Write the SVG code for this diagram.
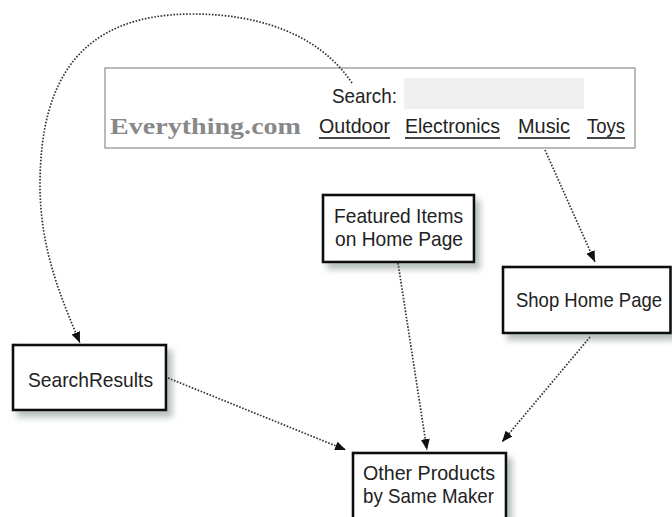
<svg xmlns="http://www.w3.org/2000/svg" width="672" height="517" viewBox="0 0 672 517">
<style>
.box{fill:#fff;stroke:#111;stroke-width:2.6}
.lbl{font-family:"Liberation Sans Narrow","Liberation Sans",Arial,sans-serif;font-size:21px;fill:#222}
.link{font-family:"Liberation Sans Narrow","Liberation Sans",Arial,sans-serif;font-size:21px;fill:#222}
.ul{stroke:#444;stroke-width:2}
.conn{fill:none;stroke:#333;stroke-width:1.7;stroke-dasharray:1.6 1.6}
</style>
<defs>
<marker id="arr" markerUnits="userSpaceOnUse" markerWidth="12" markerHeight="10" refX="11" refY="4.5" orient="auto">
<path d="M0,0 L11,4.5 L0,9 z" fill="#111"/>
</marker>
<filter id="sh" x="-20%" y="-20%" width="150%" height="160%">
<feDropShadow dx="5" dy="6" stdDeviation="3" flood-color="#7a8a88" flood-opacity="0.55"/>
</filter>
</defs>
<g id="website">
<rect x="105" y="68" width="530" height="80" fill="#fff" stroke="#aaa" stroke-width="1.6"/>
<text class="lbl" x="332" y="103" textLength="65" lengthAdjust="spacingAndGlyphs">Search:</text>
<rect x="404" y="78" width="180" height="31" fill="#f0f0f0"/>
<text x="110" y="134" font-family="'Liberation Serif','Times New Roman',serif" font-weight="bold" font-size="24" fill="#888" textLength="191" lengthAdjust="spacingAndGlyphs">Everything.com</text>
<text class="link" x="319" y="133" textLength="71" lengthAdjust="spacingAndGlyphs">Outdoor</text>
<line class="ul" x1="319" y1="138" x2="390" y2="138"/>
<text class="link" x="405" y="133" textLength="95" lengthAdjust="spacingAndGlyphs">Electronics</text>
<line class="ul" x1="405" y1="138" x2="500" y2="138"/>
<text class="link" x="518" y="133" textLength="52" lengthAdjust="spacingAndGlyphs">Music</text>
<line class="ul" x1="518" y1="138" x2="570" y2="138"/>
<text class="link" x="587" y="133" textLength="38" lengthAdjust="spacingAndGlyphs">Toys</text>
<line class="ul" x1="587" y1="138" x2="625" y2="138"/>
</g>
<g id="featured">
<rect class="box" x="323" y="195" width="151" height="67" filter="url(#sh)"/>
<text class="lbl" x="334" y="223" textLength="129" lengthAdjust="spacingAndGlyphs">Featured Items</text>
<text class="lbl" x="335" y="246" textLength="128" lengthAdjust="spacingAndGlyphs">on Home Page</text>
</g>
<g id="shop">
<rect class="box" x="503" y="267" width="167.5" height="66" filter="url(#sh)"/>
<text class="lbl" x="516" y="307" textLength="146" lengthAdjust="spacingAndGlyphs">Shop Home Page</text>
</g>
<g id="searchresults">
<rect class="box" x="13" y="345" width="153" height="65" filter="url(#sh)"/>
<text class="lbl" x="28" y="387" textLength="125" lengthAdjust="spacingAndGlyphs">SearchResults</text>
</g>
<g id="other">
<rect class="box" x="353" y="453" width="153" height="80" filter="url(#sh)"/>
<text class="lbl" x="363" y="480" textLength="132" lengthAdjust="spacingAndGlyphs">Other Products</text>
<text class="lbl" x="363" y="503" textLength="131" lengthAdjust="spacingAndGlyphs">by Same Maker</text>
</g>
<g id="connectors">
<path class="conn" d="M352,83 C320,35 260,14 193,14 C80,14 40,80 40,185 C40,250 62,300 80,343" marker-end="url(#arr)"/>
<path class="conn" d="M545,150 L595,262" marker-end="url(#arr)"/>
<path class="conn" d="M398,263 L427,450" marker-end="url(#arr)"/>
<path class="conn" d="M590,337 L502,442" marker-end="url(#arr)"/>
<path class="conn" d="M168,378 L346,450" marker-end="url(#arr)"/>
</g>
</svg>
